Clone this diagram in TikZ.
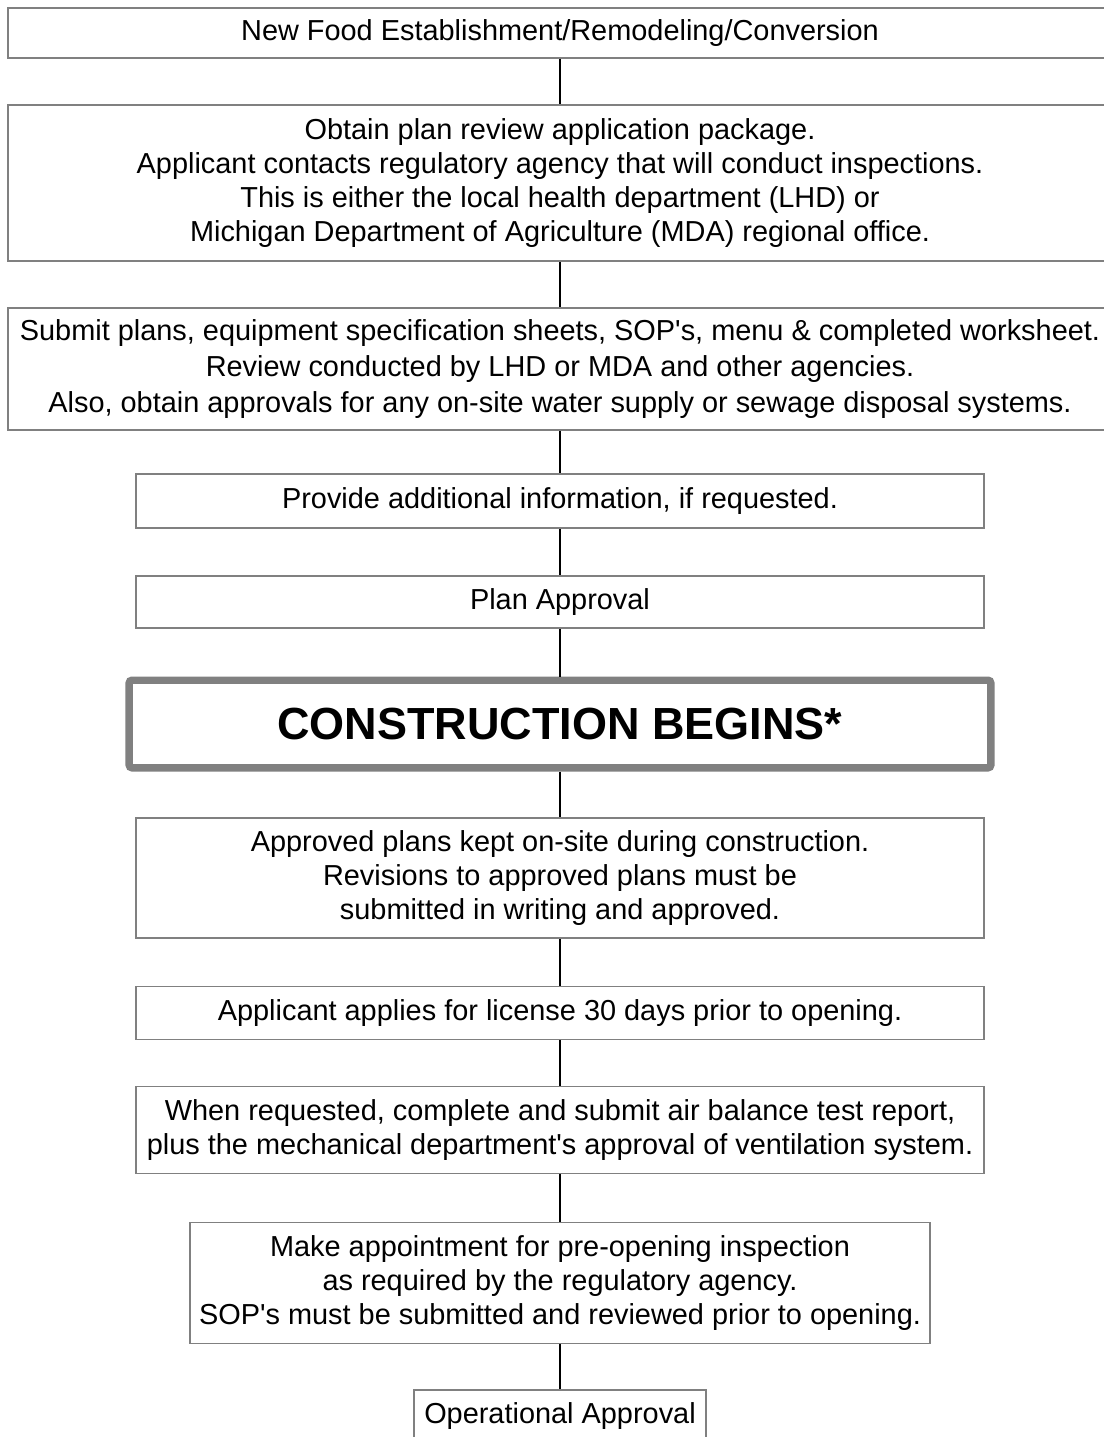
\documentclass[tikz,border=0pt]{standalone}
\usepackage{fontspec}
\setmainfont{Liberation Sans}
\begin{document}
\begin{tikzpicture}[x=1bp, y=-1bp,
            b/.style={draw=gray, line width=1.5bp, align=center, inner sep=0pt,
            font=\fontsize{28.9bp}{34bp}\selectfont},
            big/.style={draw=gray, line width=7bp, rounded corners=3bp, inner sep=0pt,
            font=\fontsize{45bp}{50bp}\selectfont\bfseries}]
            \useasboundingbox[fill=white] (0,0) rectangle (1103,1437);

            \node[b, minimum width=1104bp, minimum height=50bp] (1) at (560,33) {New Food Establishment/Remodeling/Conversion};
            \node[b, minimum width=1104bp, minimum height=156bp] (2) at (560,183) {Obtain plan review application package.\\
            Applicant contacts regulatory agency that will conduct inspections.\\
            This is either the local health department (LHD) or\\
            Michigan Department of Agriculture (MDA) regional office.};
            \node[b, minimum width=1104bp, minimum height=122bp, font=\fontsize{28.9bp}{36bp}\selectfont] (3) at (560,369) {Submit plans, equipment specification sheets, SOP\textquotesingle s, menu \& completed worksheet.\\
            Review conducted by LHD or MDA and other agencies.\\
            Also, obtain approvals for any on-site water supply or sewage disposal systems.};
            \node[b, minimum width=848bp, minimum height=54bp] (4) at (560,501) {Provide additional information, if requested.};
            \node[b, minimum width=848bp, minimum height=52bp] (5) at (560,602) {Plan Approval};
            \node[big, minimum width=862bp, minimum height=88bp] (6) at (560,724) {CONSTRUCTION BEGINS*};
            \node[b, minimum width=848bp, minimum height=120bp] (7) at (560,878) {Approved plans kept on-site during construction.\\
            Revisions to approved plans must be\\
            submitted in writing and approved.};
            \node[b, minimum width=848bp, minimum height=53bp] (8) at (560,1013) {Applicant applies for license 30 days prior to opening.};
            \node[b, minimum width=848bp, minimum height=87bp] (9) at (560,1130) {When requested, complete and submit air balance test report,\\
            plus the mechanical department\textquotesingle s approval of ventilation system.};
            \node[b, minimum width=740bp, minimum height=121bp] (10) at (560,1283) {Make appointment for pre-opening inspection\\
            as required by the regulatory agency.\\
            SOP\textquotesingle s must be submitted and reviewed prior to opening.};
            \node[b, minimum width=292bp, minimum height=52bp] (11) at (560,1416) {Operational Approval};

            \draw[draw=gray, line width=1.5bp] ([shift={(7,7)}]6.north west) rectangle ([shift={(-7,-7)}]6.south east);

            \draw[-, line width=1.5bp] (1) to (2);
            \draw[-, line width=1.5bp] (2) to (3);
            \draw[-, line width=1.5bp] (3) to (4);
            \draw[-, line width=1.5bp] (4) to (5);
            \draw[-, line width=1.5bp] (5) to (6);
            \draw[-, line width=1.5bp] (6) to (7);
            \draw[-, line width=1.5bp] (7) to (8);
            \draw[-, line width=1.5bp] (8) to (9);
            \draw[-, line width=1.5bp] (9) to (10);
            \draw[-, line width=1.5bp] (10) to (11);
        \end{tikzpicture}
\end{document}
